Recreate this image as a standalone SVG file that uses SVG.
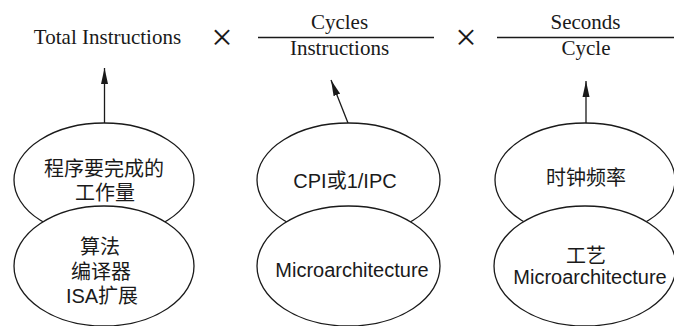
<svg xmlns="http://www.w3.org/2000/svg" width="674" height="326" viewBox="0 0 674 326">
<defs>
<style>
.bg{fill:#ffffff}
.el{fill:#ffffff;stroke:#1a1a1a;stroke-width:1.3}
.ln{stroke:#1a1a1a;stroke-width:1.3;fill:none}
.top{font-family:"Liberation Serif","Times New Roman",serif;font-size:21px;fill:#1a1a1a;text-anchor:middle}
.times{font-family:"Liberation Serif","Times New Roman",serif;font-size:38px;fill:#1a1a1a;text-anchor:middle}
.lat{font-family:"Liberation Sans",Arial,sans-serif;font-size:20px;fill:#1a1a1a;text-anchor:middle}
.cjk{font-family:"Liberation Sans","Noto Sans CJK SC",sans-serif;font-size:20px;fill:#1a1a1a;text-anchor:middle}
</style>
<marker id="ah" viewBox="0 0 16 8" refX="16" refY="4" markerWidth="16" markerHeight="8" markerUnits="userSpaceOnUse" orient="auto">
<path d="M0,0.5 L16,4 L0,7.5 Z" fill="#1a1a1a"/>
</marker>
</defs>
<rect class="bg" x="0" y="0" width="674" height="326"/>
<g id="formula">
<text class="top" x="107.5" y="44">Total Instructions</text>
<text class="times" x="222" y="50">×</text>
<line class="ln" x1="258" y1="37.5" x2="434" y2="37.5"/>
<text class="top" x="339.5" y="29">Cycles</text>
<text class="top" x="339.5" y="55">Instructions</text>
<text class="times" x="466" y="50">×</text>
<line class="ln" x1="497" y1="37.5" x2="674" y2="37.5"/>
<text class="top" x="585.5" y="29">Seconds</text>
<text class="top" x="586" y="55">Cycle</text>
</g>
<g id="connectors">
<line class="ln" x1="104.5" y1="123" x2="104.5" y2="68" marker-end="url(#ah)"/>
<line class="ln" x1="348" y1="123" x2="331" y2="80" marker-end="url(#ah)"/>
<line class="ln" x1="586" y1="123" x2="586" y2="81" marker-end="url(#ah)"/>
</g>
<g id="node-workload">
<ellipse class="el" cx="104" cy="180" rx="90" ry="57"/>
<text class="cjk" x="104" y="176">程序要完成的</text>
<text class="cjk" x="105" y="200">工作量</text>
</g>
<g id="node-algorithm">
<ellipse class="el" cx="104" cy="266" rx="90" ry="60"/>
<text class="cjk" x="100" y="254">算法</text>
<text class="cjk" x="101" y="279">编译器</text>
<text class="cjk" x="102" y="303">ISA扩展</text>
</g>
<g id="node-cpi">
<ellipse class="el" cx="348.5" cy="180" rx="91.5" ry="57"/>
<text class="cjk" x="345" y="188">CPI或1/IPC</text>
</g>
<g id="node-microarch">
<ellipse class="el" cx="348.5" cy="266" rx="91.5" ry="60"/>
<text class="lat" x="352" y="277">Microarchitecture</text>
</g>
<g id="node-clock">
<ellipse class="el" cx="585" cy="180" rx="90" ry="57"/>
<text class="cjk" x="586" y="185">时钟频率</text>
</g>
<g id="node-process">
<ellipse class="el" cx="585" cy="266" rx="91" ry="60"/>
<text class="cjk" x="586" y="263">工艺</text>
<text class="lat" x="590" y="284">Microarchitecture</text>
</g>
</svg>
